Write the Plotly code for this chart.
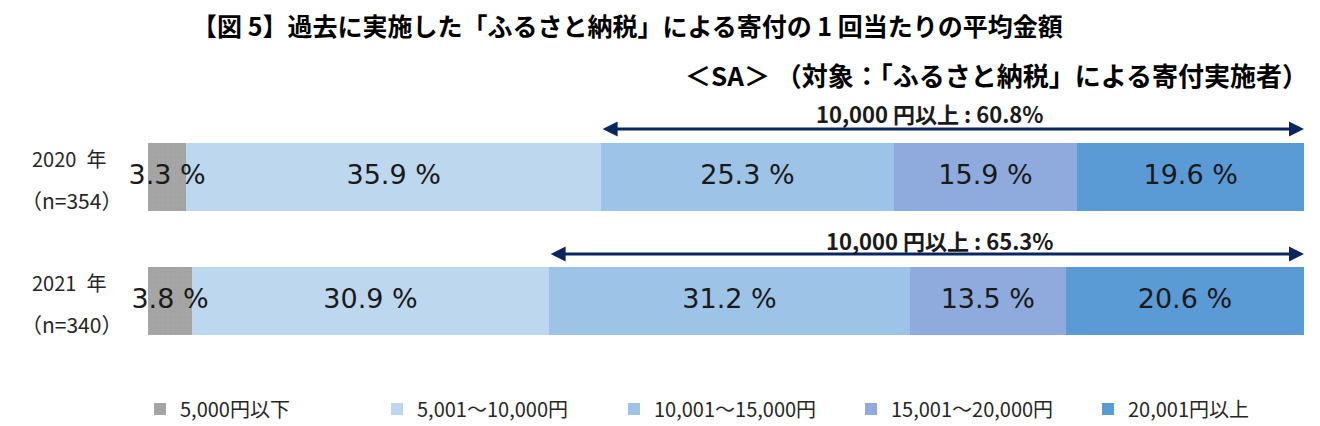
import plotly.graph_objects as go

years = ["2020年", "2021年"]
year_labels = ["2020\u2002年", "2021\u2002年"]
n_labels = ["（n=354）", "（n=340）"]
series_names = ["5,000円以下", "5,001～10,000円", "10,001～15,000円", "15,001～20,000円", "20,001円以上"]
values_2020 = [3.3, 35.9, 25.3, 15.9, 19.6]
values_2021 = [3.8, 30.9, 31.2, 13.5, 20.6]
colors = ["#A5A5A5", "#BDD7EE", "#9DC3E6", "#8FAADC", "#5B9BD5"]

title_text = "【図 5】過去に実施した「ふるさと納税」による寄付の 1 回当たりの平均金額"
subtitle_text = "＜SA＞ （対象：「ふるさと納税」による寄付実施者）"

rows = [values_2020, values_2021]

fig = go.Figure()
for i, name in enumerate(series_names):
    marker = dict(color=colors[i], line=dict(width=0))
    if i == 0:
        marker["pattern"] = dict(shape=".", fgcolor="#9a9a9a", size=5, solidity=0.1)
    fig.add_trace(go.Bar(
        y=years, x=[r[i] for r in rows], name=name, orientation="h",
        marker=marker, width=0.55, hoverinfo="skip",
    ))

# value labels at segment centres
lab_x, lab_y, lab_t = [], [], []
for yr, r in zip(years, rows):
    cum = 0
    for v in r:
        lab_x.append(cum + v / 2)
        lab_y.append(yr)
        lab_t.append(f"{v:.1f} %")
        cum += v
fig.add_trace(go.Scatter(
    x=lab_x, y=lab_y, text=lab_t, mode="text", showlegend=False, cliponaxis=False,
    textfont=dict(family="DejaVu Sans", size=27, color="#1a1a1a"), hoverinfo="skip",
))

ann = []
# y labels
for k, yr in enumerate(years):
    ann.append(dict(xref="paper", yref="y", x=-0.035, y=k, xanchor="right", yanchor="middle",
                    yshift=19, text=year_labels[k], showarrow=False,
                    font=dict(family="Noto Sans CJK JP", size=20, color="#262626")))
    ann.append(dict(xref="paper", yref="y", x=-0.031, y=k, xanchor="right", yanchor="middle",
                    yshift=-23, xshift=12, text=n_labels[k], showarrow=False,
                    font=dict(family="Noto Sans CJK JP", size=21, color="#262626")))

# arrows for >=10,000
arrow_y = [-0.387, 0.621]
text_y_px = [113, 240]
text_x = [67.6, 68.5]
for k, r in enumerate(rows):
    start = r[0] + r[1]
    share = sum(r[2:])
    ann.append(dict(xref="x", yref="y", axref="x", ayref="y", x=100, y=arrow_y[k],
                    ax=start, ay=arrow_y[k], text="", showarrow=True,
                    arrowhead=2, arrowside="end+start", arrowsize=1, arrowwidth=3,
                    arrowcolor="#0B2561", standoff=0, startstandoff=0))
    ann.append(dict(xref="x", yref="paper", x=text_x[k], y=(363 - text_y_px[k]) / 248,
                    xanchor="center", yanchor="middle",
                    text=f"<b>10,000 円以上 : {share:.1f}%</b>", showarrow=False,
                    font=dict(family="Noto Sans CJK JP", size=22, color="#1a1a1a")))

ann.append(dict(xref="paper", yref="paper", x=(627 - 148) / 1156, y=(363 - 25) / 248,
                xanchor="center", yanchor="middle", text=f"<b>{title_text}</b>", showarrow=False,
                font=dict(family="Noto Sans CJK JP", size=25, color="#000000")))
ann.append(dict(xref="paper", yref="paper", x=(1300 - 148) / 1156, y=(363 - 75) / 248,
                xanchor="right", yanchor="middle", text=f"<b>{subtitle_text}</b>", showarrow=False,
                xshift=10, font=dict(family="Noto Sans CJK JP", size=26, color="#000000")))

fig.update_layout(
    barmode="stack", width=1320, height=426,
    margin=dict(l=148, r=16, t=115, b=63, autoexpand=False),
    paper_bgcolor="white", plot_bgcolor="white",
    xaxis=dict(range=[0, 100], visible=False, fixedrange=True),
    yaxis=dict(categoryorder="array", categoryarray=years, range=[1.5, -0.5],
               showticklabels=False, showgrid=False, zeroline=False, showline=False),
    legend=dict(orientation="h", x=(140 - 148) / 1156, xanchor="left", y=(363 - 409) / 248,
                yanchor="middle", entrywidth=192, entrywidthmode="pixels", traceorder="normal",
                font=dict(family="Noto Sans CJK JP", size=20, color="#262626")),
    annotations=ann, bargap=0,
)
fig.write_html("out.html")
